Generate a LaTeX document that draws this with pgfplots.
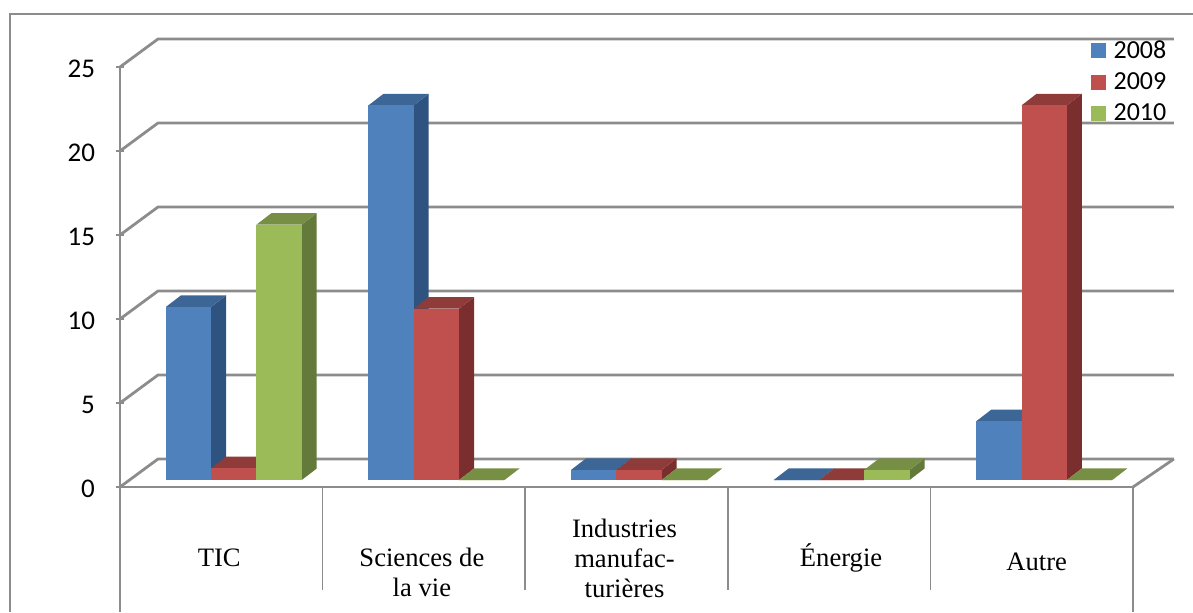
\documentclass[border=0pt]{standalone}
\usepackage{fontspec}
\setmainfont{Liberation Serif}
\newfontfamily\calibri{Carlito}
\usepackage{pgfplots}
\pgfplotsset{compat=1.18}

\definecolor{blueF}{HTML}{4F81BD}
\definecolor{blueT}{HTML}{3C6696}
\definecolor{blueS}{HTML}{2F5380}
\definecolor{redF}{HTML}{C0504D}
\definecolor{redT}{HTML}{8E3B39}
\definecolor{redS}{HTML}{7A2F2E}
\definecolor{greenF}{HTML}{9BBB59}
\definecolor{greenT}{HTML}{778F44}
\definecolor{greenS}{HTML}{647A3A}
\definecolor{gridgray}{HTML}{8C8C8C}

% one bar: category, slot in the cluster, value, colour prefix
\newcommand{\barcube}[4]{%
  \pgfmathsetmacro\xl{#1-0.2737+#2*0.2236}%
  \pgfmathsetmacro\xr{\xl+0.2236}%
  \pgfmathsetmacro\yb{0.4167}%
  \pgfmathsetmacro\yt{#3+0.4167}%
  \pgfmathsetmacro\xrd{\xr+0.074}%
  \pgfmathsetmacro\xld{\xl+0.074}%
  \pgfmathsetmacro\ybd{\yb+0.685}%
  \pgfmathsetmacro\ytd{\yt+0.685}%
  \edef\tmp{%
    \noexpand\addplot[forget plot,draw=none,fill=#4S] coordinates {(\xr,\yb) (\xrd,\ybd) (\xrd,\ytd) (\xr,\yt)};
    \noexpand\addplot[forget plot,draw=none,fill=#4T] coordinates {(\xl,\yt) (\xr,\yt) (\xrd,\ytd) (\xld,\ytd)};
    \noexpand\addplot[forget plot,draw=none,fill=#4F] coordinates {(\xl,\yb) (\xr,\yb) (\xr,\yt) (\xl,\yt)};
  }\tmp
}
% wall line at a value
\newcommand{\wall}[1]{%
  \pgfmathsetmacro\yd{#1+1.6667}%
  \edef\tmp{\noexpand\addplot[forget plot,gridgray,line width=1.4pt] coordinates {(-0.5,#1) (-0.3124,\yd) (4.702,\yd)};}\tmp
}

\begin{document}
\begin{tikzpicture}
\useasboundingbox (0,0) rectangle (596.5pt,306pt);
\draw[gridgray,line width=1pt] (5pt,0) -- (5pt,299pt) -- (596.5pt,299pt);
\begin{axis}[
    at={(60pt,62.5pt)}, anchor=south west,
    scale only axis, width=506.5pt, height=210pt,
    xmin=-0.5, xmax=4.5, ymin=0, ymax=25,
    clip=false,
    axis x line=bottom, axis y line=left,
    axis line style={-,gridgray,line width=1.4pt},
    major tick length=4pt,
    tick style={gridgray,line width=1pt},
    xtick style={draw=none},
    xtick={-0.5,0.5,1.5,2.5,3.5,4.5},
    x tick label as interval,
    xticklabels={TIC,{\strut\\Sciences de\hspace*{2pt}\\la vie\rule[-2pt]{0pt}{1pt}},{Industries\\manufac-\\turières},{\hspace{14pt}Énergie},{\hspace{7pt}\rule{0pt}{12.5pt}Autre}},
    xticklabel style={anchor=center,align=center,font=\fontsize{13.3}{15}\selectfont,yshift=-33.5pt,xshift=-1pt},
    ytick={0,5,10,15,20,25},
    yticklabel style={font=\calibri\fontsize{13.5}{15}\selectfont,/pgf/number format/assume math mode=true,xshift=-7pt,yshift=-0.75pt},
    legend style={at={(rel axis cs:0.9585,1.064)},anchor=north west,draw=none,fill=none,inner sep=0pt,
      font=\calibri\fontsize{13}{15}\selectfont,row sep=5.7pt,nodes={inner sep=0pt,outer sep=0pt}},
    legend cell align=left,
    legend image code/.code={\fill[draw=none,#1] (0pt,-3.75pt) rectangle (7.5pt,3.75pt);},
]
\wall{0}\wall{5}\wall{10}\wall{15}\wall{20}\wall{25}
\addplot[forget plot,gridgray,line width=1.4pt] coordinates {(4.5,0) (4.702,1.6667)};

% table rules under the floor
\addplot[forget plot,gridgray,line width=1pt] coordinates {(-0.5,0) (-0.5,-7.44)};
\addplot[forget plot,gridgray,line width=0.8pt] coordinates {(0.5,0) (0.5,-6.13)};
\addplot[forget plot,gridgray,line width=0.8pt] coordinates {(1.5,0) (1.5,-6.13)};
\addplot[forget plot,gridgray,line width=0.8pt] coordinates {(2.5,0) (2.5,-6.13)};
\addplot[forget plot,gridgray,line width=0.8pt] coordinates {(3.5,0) (3.5,-6.13)};
\addplot[forget plot,gridgray,line width=1pt] coordinates {(4.5,0) (4.5,-7.44)};

\barcube{0}{0}{10.3}{blue}
\barcube{0}{1}{0.7}{red}
\barcube{0}{2}{15.2}{green}
\barcube{1}{0}{22.3}{blue}
\barcube{1}{1}{10.2}{red}
\barcube{1}{2}{0}{green}
\barcube{2}{0}{0.6}{blue}
\barcube{2}{1}{0.6}{red}
\barcube{2}{2}{0}{green}
\barcube{3}{0}{0}{blue}
\barcube{3}{1}{0}{red}
\barcube{3}{2}{0.6}{green}
\barcube{4}{0}{3.5}{blue}
\barcube{4}{1}{22.3}{red}
\barcube{4}{2}{0}{green}

\addlegendimage{fill=blueF}\addlegendentry{\;2008}
\addlegendimage{fill=redF}\addlegendentry{\;2009}
\addlegendimage{fill=greenF}\addlegendentry{\;2010}
\end{axis}
\end{tikzpicture}
\end{document}
